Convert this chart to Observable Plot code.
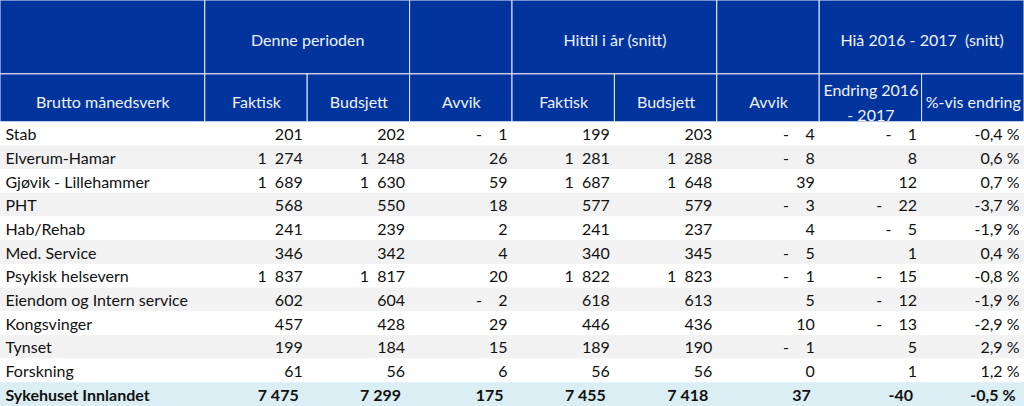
<!DOCTYPE html>
<html>
<head>
<meta charset="utf-8">
<script src="https://cdn.jsdelivr.net/npm/d3@7"></script>
<script src="https://cdn.jsdelivr.net/npm/@observablehq/plot@0.6"></script>
<style>
  html, body { margin: 0; padding: 0; background: #fff; }
  svg { display: block; }
</style>
</head>
<body>
<div id="chart"></div>
<script>
// ---- data ----
const units = ["Stab", "Elverum-Hamar", "Gjøvik - Lillehammer", "PHT", "Hab/Rehab", "Med. Service",
  "Psykisk helsevern", "Eiendom og Intern service", "Kongsvinger", "Tynset", "Forskning"];
const periodFaktisk  = [201, 1274, 1689, 568, 241, 346, 1837, 602, 457, 199, 61];
const periodBudsjett = [202, 1248, 1630, 550, 239, 342, 1817, 604, 428, 184, 56];
const periodAvvik    = [-1, 26, 59, 18, 2, 4, 20, -2, 29, 15, 6];
const ytdFaktisk     = [199, 1281, 1687, 577, 241, 340, 1822, 618, 446, 189, 56];
const ytdBudsjett    = [203, 1288, 1648, 579, 237, 345, 1823, 613, 436, 190, 56];
const ytdAvvik       = [-4, -8, 39, -3, 4, -5, -1, 5, 10, -1, 0];
const endring        = [-1, 8, 12, -22, -5, 1, -15, -12, -13, 5, 1];
const endringPct     = [-0.4, 0.6, 0.7, -3.7, -1.9, 0.4, -0.8, -1.9, -2.9, 2.9, 1.2];

const totalLabel = "Sykehuset Innlandet";
const totalValues = [7475, 7299, 175, 7455, 7418, 37, -40];
const totalPct = -0.5;

const groupHeaders = ["", "Denne perioden", "", "Hittil i år (snitt)", "", "Hiå 2016 - 2017  (snitt)"];
const groupSpans = [2, 2, 1, 2, 1, 2];           // in column units
const subHeaders = ["Brutto månedsverk", "Faktisk", "Budsjett", "Avvik", "Faktisk", "Budsjett", "Avvik",
  "Endring 2016\n- 2017", "%-vis endring"];
const colSpans = [2, 1, 1, 1, 1, 1, 1, 1, 1];

// ---- layout (in table units) ----
const H1 = 3.12, H2 = 2.02;
const nBody = units.length + 1;
const totalUnitsY = H1 + H2 + nBody;
const totalUnitsX = d3.sum(colSpans);

const colStart = colSpans.map((s, i) => d3.sum(colSpans.slice(0, i)));
const colEnd = colSpans.map((s, i) => colStart[i] + s);
const groupStart = groupSpans.map((s, i) => d3.sum(groupSpans.slice(0, i)));

// ---- formatting ----
const NB = "\u00a0";
function fmtInt(v, total) {
  const a = Math.abs(v);
  const sep = total ? NB : NB + NB;
  let s = a >= 1000 ? Math.floor(a / 1000) + sep + String(a % 1000).padStart(3, "0") : String(a);
  if (v < 0) s = total ? "-" + s : "-" + NB.repeat(4) + s;
  return s;
}
function fmtPct(v) {
  return (v < 0 ? "-" : "") + Math.abs(v).toFixed(1).replace(".", ",") + NB + "%";
}

// ---- tables for marks ----
const headerCells = [
  ...groupHeaders.map((t, i) => ({x1: groupStart[i], x2: groupStart[i] + groupSpans[i], y1: 0, y2: H1, text: t})),
  ...subHeaders.map((t, i) => ({x1: colStart[i], x2: colEnd[i], y1: H1, y2: H1 + H2, text: t}))
];

const rows = units.map((u, i) => ({
  label: u,
  values: [fmtInt(periodFaktisk[i]), fmtInt(periodBudsjett[i]), fmtInt(periodAvvik[i]),
    fmtInt(ytdFaktisk[i]), fmtInt(ytdBudsjett[i]), fmtInt(ytdAvvik[i]), fmtInt(endring[i]), fmtPct(endringPct[i])],
  total: false
}));
rows.push({label: totalLabel, values: [...totalValues.map(v => fmtInt(v, true)), fmtPct(totalPct)], total: true});

const bands = rows.map((r, i) => ({
  y1: H1 + H2 + i, y2: H1 + H2 + i + 1,
  fill: r.total ? "#daeef3" : (i % 2 === 1 ? "#f2f2f2" : "#ffffff")
}));

const labelCells = rows.map((r, i) => ({x: 0, y: H1 + H2 + i + 0.5, text: r.label, total: r.total}));
const valueCells = rows.flatMap((r, i) => r.values.map((t, j) => ({
  x: colEnd[j + 1], y: H1 + H2 + i + 0.5, text: t, total: r.total
})));

const font = "Lato, 'Noto Sans', sans-serif";
const fs = 16;

const chart = Plot.plot({
  width: 1024,
  height: 406,
  margin: 0,
  x: {domain: [0, totalUnitsX], range: [0, 1024], axis: null},
  y: {domain: [0, totalUnitsY], range: [0, 406], axis: null},
  style: {fontFamily: font, fontSize: fs + "px", background: "#fff"},
  marks: [
    Plot.rect(bands, {x1: 0, x2: totalUnitsX, y1: "y1", y2: "y2", fill: "fill"}),
    Plot.rect(headerCells, {x1: "x1", x2: "x2", y1: "y1", y2: "y2", fill: "#02349e", stroke: "#e8ecf6", strokeWidth: 1}),
    Plot.text(headerCells, {
      x: d => (d.x1 + d.x2) / 2, y: d => (d.y1 + d.y2) / 2 + (d.y1 > 0 ? 0.08 : 0), text: "text",
      fill: "#eef2fc", fontSize: fs, lineHeight: 1.6, fontFamily: font
    }),
    Plot.text(labelCells.filter(d => !d.total), {x: "x", y: "y", text: "text", textAnchor: "start", dx: 5, dy: 1, fill: "#111", fontSize: fs, fontFamily: font}),
    Plot.text(labelCells.filter(d => d.total), {x: "x", y: "y", text: "text", textAnchor: "start", dx: 5, dy: 1, fill: "#111", fontSize: fs, fontWeight: "bold", fontFamily: font}),
    Plot.text(valueCells.filter(d => !d.total), {x: "x", y: "y", text: "text", textAnchor: "end", dx: -5, dy: 1, fill: "#111", fontSize: fs, fontFamily: font}),
    Plot.text(valueCells.filter(d => d.total), {x: "x", y: "y", text: "text", textAnchor: "end", dx: -9, dy: 1, fill: "#111", fontSize: fs, fontWeight: "bold", fontFamily: font})
  ]
});
document.getElementById("chart").append(chart);
</script>
</body>
</html>
